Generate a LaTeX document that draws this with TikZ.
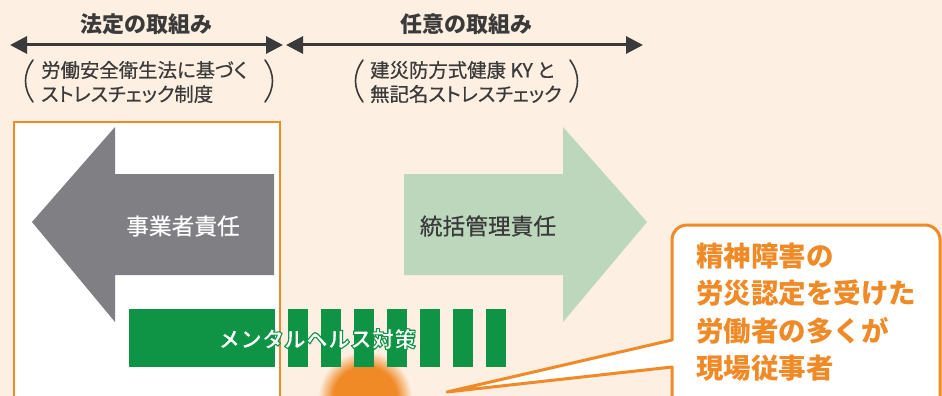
\documentclass[tikz,border=0pt]{standalone}
\usepackage{fontspec}
\setmainfont{Noto Sans CJK JP}
\newfontfamily\propjp[RawFeature=+palt,FakeBold=0.5]{Noto Sans CJK JP}
\newfontfamily\medjp[FakeBold=0.5]{Noto Sans CJK JP}
\usetikzlibrary{arrows.meta}
\definecolor{bgc}{HTML}{FDEFE2}
\definecolor{orng}{HTML}{F08A27}
\definecolor{grayarrow}{HTML}{808084}
\definecolor{lgreen}{HTML}{BDD7BD}
\definecolor{dgreen}{HTML}{0F9445}
\definecolor{dtext}{HTML}{3A3A3A}
\pgfdeclareradialshading{glow}{\pgfpoint{0bp}{0bp}}{color(0bp)=(orng); color(17bp)=(orng); color(25bp)=(bgc); color(50bp)=(bgc)}
\newcommand{\haloon}{\special{pdf:literal direct 2 Tr 0.059 0.58 0.271 RG 1.1 w 1 j}}
\newcommand{\halooff}{\special{pdf:literal direct 0 Tr}}
\tikzset{
  dbl/.style={draw=dtext, line width=3pt, {Triangle[length=17pt,width=17pt]}-{Triangle[length=17pt,width=17pt]}},
  titletext/.style={text=dtext, font=\fontsize{22}{24}\selectfont\bfseries, inner sep=0pt},
  subtext/.style={text=dtext, font=\propjp\fontsize{19.4}{24}\selectfont, align=left, inner sep=0pt, anchor=west},
  paren/.style={draw=dtext, line width=1.6pt, line cap=round},
  arrowtext/.style={font=\medjp\fontsize{22.7}{24}\selectfont, inner sep=0pt},
  bar/.style={fill=dgreen},
  callout/.style={draw=orng, line width=3pt, fill=white, line join=round},
  callouttext/.style={text=orng, font=\fontsize{27.5}{37.5}\selectfont\bfseries, align=left, inner sep=0pt, anchor=west}
}
\begin{document}
\begin{tikzpicture}[x=1pt,y=-1pt]
\useasboundingbox (0,0) rectangle (942,396);
\clip (0,0) rectangle (942,396);
\fill[bgc] (0,0) rectangle (942,396);

% headings
\node[titletext] (t1) at (146,24) {法定の取組み};
\node[titletext] (t2) at (466,24) {任意の取組み};
\coordinate (a1) at (10,45);
\coordinate (a2) at (283,45);
\coordinate (a3) at (286,45);
\coordinate (a4) at (643,45);
\draw[dbl] (a1) -- (a2);
\draw[dbl] (a3) -- (a4);

% sub texts
\node[subtext] (s1) at (41,82) {労働安全衛生法に基づく\\ストレスチェック制度};
\node[subtext] (s2) at (370,82) {建災防方式健康 KY と\\無記名ストレスチェック};
\draw[paren] (33,60) .. controls (23,74) and (23,88) .. (33,102);
\draw[paren] (265,60) .. controls (275,74) and (275,88) .. (265,102);
\draw[paren] (363,60) .. controls (353,74) and (353,88) .. (363,102);
\draw[paren] (570,60) .. controls (580,74) and (580,88) .. (570,102);

% white box
\draw[draw=orng, fill=white, line width=1.5pt] (14,122) rectangle (280,420);

% gray arrow
\fill[grayarrow] (274,174) -- (115,174) -- (115,127) -- (32,222) -- (115,322) -- (115,275) -- (274,275) -- cycle;
\node[arrowtext, text=white] (jg) at (183,226) {事業者責任};

% light green arrow
\fill[lgreen] (404,174) -- (563,174) -- (563,127) -- (647,222) -- (563,322) -- (563,275) -- (404,275) -- cycle;
\node[arrowtext, text=dtext] (tk) at (488,226) {統括管理責任};

% orange glow
\shade[shading=glow] (365,398) circle (47);

% green bar
\fill[bar] (129,309) rectangle (275,367);
\foreach \i in {0,...,6} {
  \fill[bar] (288+33*\i,309) rectangle (308+33*\i,367);
}
\node[inner sep=0pt, font=\fontsize{22}{24}\selectfont\bfseries] (mh) at (317,339) {\color{white}\haloon メンタルヘルス対策\halooff};

% callout
\draw[callout] (447,392) -- (672,340) [rounded corners=15pt] -- (672,225) -- (940,225) -- (940,430) [sharp corners] -- (672,430) -- (672,367) -- cycle;
\node[callouttext] (ct) at (696,312) {精神障害の\\労災認定を受けた\\労働者の多くが\\現場従事者};
\end{tikzpicture}
\end{document}
